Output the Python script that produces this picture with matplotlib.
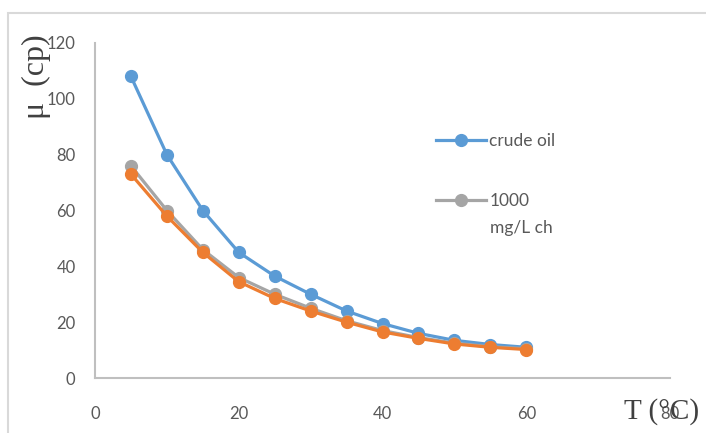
import matplotlib.pyplot as plt
from matplotlib.patches import Rectangle

temps = [5, 10, 15, 20, 25, 30, 35, 40, 45, 50, 55, 60]
crude_oil = [108, 80, 60, 45, 36.5, 30, 24, 19.5, 16, 13.5, 12, 11]
ch_1000 = [76, 60, 46, 36, 30, 25, 20.5, 17, 14.5, 12.5, 11.2, 10.5]
third = [73, 58, 45, 34.5, 28.5, 24, 20, 16.5, 14.2, 12.2, 11, 10.2]

fig = plt.figure(figsize=(7.06, 4.33), dpi=100)
ax = fig.add_axes([0.1346, 0.127, 0.8144, 0.7737])

# outer chart border (only top/left visible)
fig.patches.append(Rectangle((8 / 706, -0.1), 1.2, 1 - 13 / 433 + 0.1,
                             transform=fig.transFigure, fill=False,
                             edgecolor="#d9d9d9", lw=1.5))

kw = dict(marker="o", markersize=8.5, linewidth=2.3)
ax.plot(temps, crude_oil, color="#5b9bd5", label="crude oil", **kw)
ax.plot(temps, ch_1000, color="#a5a5a5", label="1000", **kw)
ax.plot(temps, third, color="#ed7d31", **kw)

ax.set_xlim(0, 80)
ax.set_ylim(0, 120)
ax.set_xticks(range(0, 81, 20))
ax.set_yticks(range(0, 121, 20))
for s in ["top", "right"]:
    ax.spines[s].set_visible(False)
for s in ["left", "bottom"]:
    ax.spines[s].set_color("#bfbfbf")
    ax.spines[s].set_linewidth(1.5)
ax.tick_params(length=0, labelsize=12, labelcolor="#595959")
ax.tick_params(axis="x", pad=20)
ax.tick_params(axis="y", pad=14)
for lab in ax.get_xticklabels() + ax.get_yticklabels():
    lab.set_family("Lato")

fig.text(36 / 706, 1 - 77 / 433, "μ  (cp)", rotation=90, ha="center",
         va="center", family="Liberation Serif", fontsize=23, color="#404040")
fig.text(662 / 706, 1 - 412 / 433, "T (°C)", ha="center", va="center",
         family="Liberation Serif", fontsize=21, color="#404040")

leg = ax.legend(loc="upper left", bbox_to_anchor=(0.565, 0.777), frameon=False,
                handlelength=2.9, labelspacing=2.5, handletextpad=0.2,
                borderpad=0.4, prop={"family": "Lato", "size": 12.5})
for t in leg.get_texts():
    t.set_color("#595959")
fig.text(490 / 706, 1 - 228 / 433, "mg/L ch", ha="left", va="center",
         family="Lato", fontsize=12.5, color="#595959")

fig.savefig("out.png", dpi=100)
